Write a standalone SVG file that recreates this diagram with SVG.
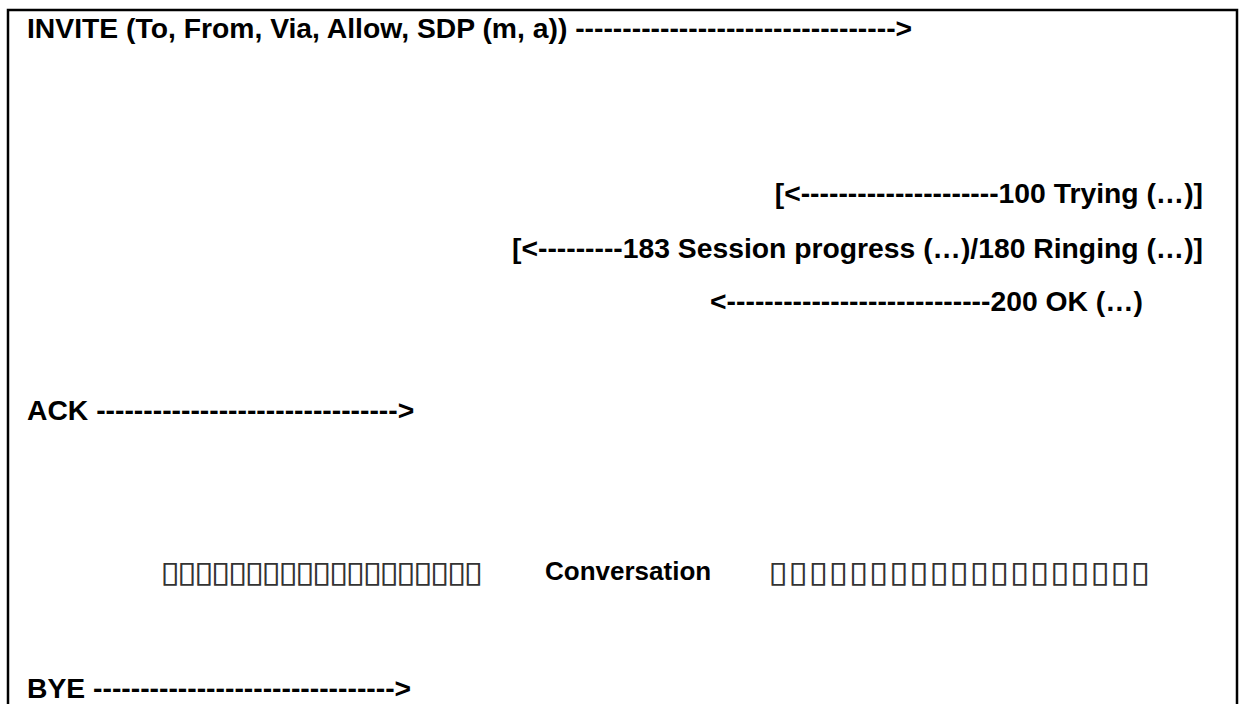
<svg xmlns="http://www.w3.org/2000/svg" width="1239" height="704" viewBox="0 0 1239 704">
<style>
.t{font-family:"Liberation Sans",Arial,sans-serif;font-weight:bold;font-size:28.3px;fill:#000}
.b{font-family:"DejaVu Sans",sans-serif;font-size:30px;fill:#333}
</style>
<rect width="1239" height="704" fill="#fff"/>
<path d="M8,704 V10 H1237 V704" fill="none" stroke="#000" stroke-width="2.5"/>
<g id="connectors">
<text id="invite" class="t" x="27" y="38">INVITE (To, From, Via, Allow, SDP (m, a)) ----------------------------------&gt;</text>
<text id="trying" class="t" x="1203" y="203" text-anchor="end">[&lt;---------------------100 Trying (…)]</text>
<text id="ringing" class="t" x="1203" y="258" text-anchor="end">[&lt;---------183 Session progress (…)/180 Ringing (…)]</text>
<text id="ok" class="t" x="1143" y="311" text-anchor="end">&lt;----------------------------200 OK (…)</text>
<text id="ack" class="t" x="27" y="420">ACK --------------------------------&gt;</text>
<text id="bye" class="t" x="27" y="698">BYE --------------------------------&gt;</text>
</g>
<g id="conversation">
<text class="b" transform="translate(160,582) scale(1.2,1)" x="0" y="0" textLength="269.2" lengthAdjust="spacing">▯▯▯▯▯▯▯▯▯▯▯▯▯▯▯▯▯▯▯</text>
<text class="t" x="545" y="580" style="font-size:26px">Conversation</text>
<text class="b" transform="translate(768,582) scale(1.2,1)" x="0" y="0" textLength="318.3" lengthAdjust="spacing">▯▯▯▯▯▯▯▯▯▯▯▯▯▯▯▯▯▯▯</text>
</g>
</svg>
